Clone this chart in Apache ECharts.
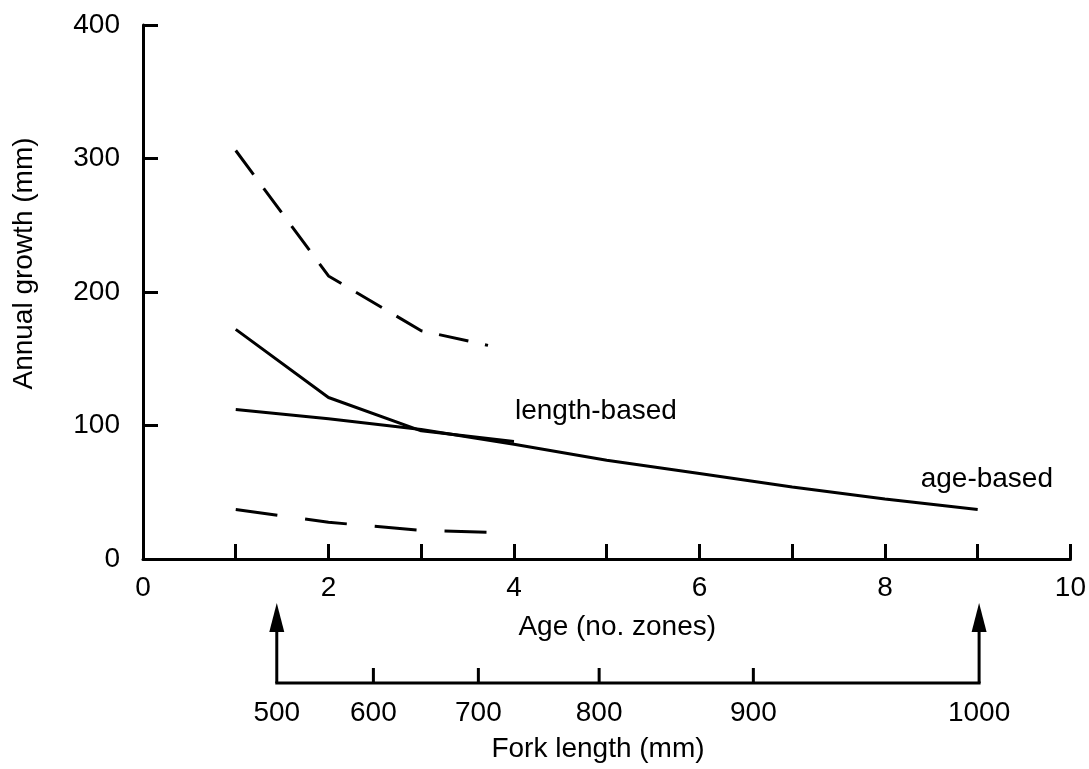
<!DOCTYPE html>
<html><head><meta charset="utf-8">
<script src="https://cdn.jsdelivr.net/npm/echarts@6/dist/echarts.min.js"></script>
<style>html,body{margin:0;padding:0;background:#fff}#c{width:1089px;height:769px}</style>
</head><body><div id="c"></div>
<script>
// ---- data ----
const ages = [1, 2, 3, 4, 5, 6, 7, 8, 9];
const ageBased = [112, 105, 97, 86, 74, 64, 54, 45, 37];
const lengthAges = [1, 2, 3, 4];
const lengthBased = [172, 121, 96, 88];
const ciAges = [1, 2, 3, 3.72];
const upperCI = [306, 212, 171, 160];
const lowerCI = [37, 27.5, 21.5, 20];
const forkLengths = [500, 600, 700, 800, 900, 1000];
const forkAtAge = [1.44, 2.48, 3.61, 4.91, 6.57, 9.0];
const ageLabelStep = 2;

const FONT = '"Liberation Sans", Arial, sans-serif';
const FS = 28;
const zip = (xs, ys) => xs.map((x, i) => [x, ys[i]]);

const chart = echarts.init(document.getElementById('c'), null, {renderer: 'canvas'});

function renderFork(params, api) {
  const i = params.dataIndex;
  const a = api.value(0), len = api.value(1);
  const base = api.coord([a, 0]);
  const top = api.coord([a, 1]);
  const last = forkLengths.length - 1;
  const ls = {stroke: '#000', lineWidth: 3};
  const children = [];
  if (i === 0) {
    const end = api.coord([forkAtAge[last], 0]);
    children.push({type: 'line', shape: {x1: base[0] - 1.5, y1: base[1], x2: end[0] + 1.5, y2: end[1]}, style: ls});
  }
  if (i === 0 || i === last) {
    children.push({type: 'line', shape: {x1: base[0], y1: base[1], x2: base[0], y2: top[1] + 27}, style: ls});
    children.push({type: 'polygon', shape: {points: [[base[0] - 7.5, top[1] + 29], [base[0] + 7.5, top[1] + 29], [base[0], top[1]]]}, style: {fill: '#000'}});
  } else {
    children.push({type: 'line', shape: {x1: base[0], y1: base[1], x2: base[0], y2: base[1] - 15}, style: ls});
  }
  children.push({type: 'text', style: {text: String(len), x: base[0], y: base[1] + 30, align: 'center', verticalAlign: 'middle', font: FS + 'px ' + FONT, fill: '#000'}});
  return {type: 'group', children};
}

const lineBase = {type: 'line', symbol: 'none', xAxisIndex: 0, yAxisIndex: 0, silent: true};

chart.setOption({
  animation: false,
  backgroundColor: '#fff',
  textStyle: {fontFamily: FONT, color: '#000'},
  grid: [
    {left: 143, top: 25, width: 929, height: 534},
    {left: 143, top: 603, width: 929, height: 80}
  ],
  xAxis: [
    {
      type: 'value', gridIndex: 0, min: 0, max: 10, interval: 1,
      axisLine: {show: true, lineStyle: {color: '#000', width: 3}},
      axisTick: {show: true, inside: true, length: 15, lineStyle: {color: '#000', width: 3}},
      axisLabel: {show: true, margin: 15, fontSize: FS, color: '#000', fontFamily: FONT,
        formatter: v => (v % ageLabelStep === 0 ? String(v) : '')},
      splitLine: {show: false},
      name: 'Age (no. zones)', nameLocation: 'middle', nameGap: 54,
      nameTextStyle: {fontSize: FS, color: '#000', fontFamily: FONT, padding: [0, 0, 0, 21]}
    },
    {
      type: 'value', gridIndex: 1, min: 0, max: 10,
      axisLine: {show: false}, axisTick: {show: false}, axisLabel: {show: false}, splitLine: {show: false},
      name: 'Fork length (mm)', nameLocation: 'middle', nameGap: 52,
      nameTextStyle: {fontSize: FS, color: '#000', fontFamily: FONT, padding: [0, 19, 0, 0]}
    }
  ],
  yAxis: [
    {
      type: 'value', gridIndex: 0, min: 0, max: 400, interval: 100,
      axisLine: {show: true, lineStyle: {color: '#000', width: 3}},
      axisTick: {show: true, inside: true, length: 15, lineStyle: {color: '#000', width: 3}},
      axisLabel: {margin: 23, fontSize: FS, color: '#000', fontFamily: FONT},
      splitLine: {show: false},
      name: 'Annual growth (mm)', nameLocation: 'middle', nameGap: 105,
      nameTextStyle: {fontSize: FS, color: '#000', fontFamily: FONT, padding: [0, 0, 0, 57]}
    },
    {
      type: 'value', gridIndex: 1, min: 0, max: 1, show: false
    }
  ],
  series: [
    Object.assign({}, lineBase, {
      name: 'age-based', data: zip(ages, ageBased),
      lineStyle: {color: '#000', width: 3},
      endLabel: {show: true, formatter: 'age-based', fontSize: FS, color: '#000', fontFamily: FONT, offset: [-65, -30]}
    }),
    Object.assign({}, lineBase, {
      name: 'length-based', data: zip(lengthAges, lengthBased),
      lineStyle: {color: '#000', width: 3},
      endLabel: {show: true, formatter: 'length-based', fontSize: FS, color: '#000', fontFamily: FONT, offset: [-7, -30]}
    }),
    Object.assign({}, lineBase, {
      name: 'upper', data: zip(ciAges, upperCI),
      lineStyle: {color: '#000', width: 3, type: [30, 17]}
    }),
    Object.assign({}, lineBase, {
      name: 'lower', data: zip(ciAges, lowerCI),
      lineStyle: {color: '#000', width: 3, type: [42, 28]}
    }),
    {
      type: 'custom', xAxisIndex: 1, yAxisIndex: 1, silent: true,
      data: zip(forkAtAge, forkLengths),
      encode: {x: 0},
      renderItem: renderFork
    }
  ]
});
</script>
</body></html>
